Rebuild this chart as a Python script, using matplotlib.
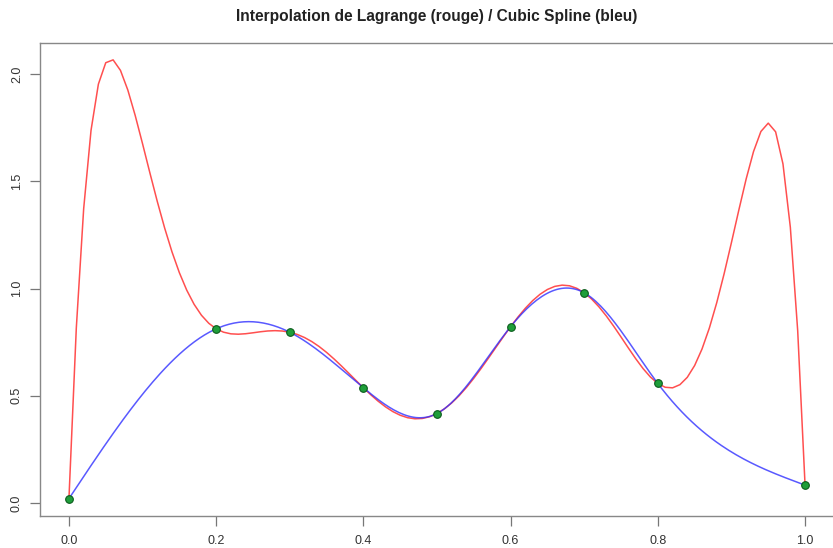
import numpy as np
import matplotlib
matplotlib.use("Agg")
import matplotlib.pyplot as plt

# Interpolation nodes
x_nodes = [0.0, 0.2, 0.3, 0.4, 0.5, 0.6, 0.7, 0.8, 1.0]
y_nodes = [0.02, 0.812, 0.796, 0.537, 0.417, 0.822, 0.980, 0.557, 0.083]

x_ticks = [0.0, 0.2, 0.4, 0.6, 0.8, 1.0]
y_ticks = [0.0, 0.5, 1.0, 1.5, 2.0]
title = "Interpolation de Lagrange (rouge) / Cubic Spline (bleu)"


def lagrange(xn, yn, t):
    xn = np.asarray(xn, float)
    yn = np.asarray(yn, float)
    out = np.zeros_like(t)
    for i in range(len(xn)):
        li = np.ones_like(t)
        for j in range(len(xn)):
            if j != i:
                li *= (t - xn[j]) / (xn[i] - xn[j])
        out += yn[i] * li
    return out


def natural_spline(xn, yn):
    # natural cubic spline: second derivative zero at both ends
    x = np.asarray(xn, float)
    y = np.asarray(yn, float)
    n = len(x)
    h = np.diff(x)
    A = np.zeros((n, n))
    r = np.zeros(n)
    A[0, 0] = A[-1, -1] = 1.0
    for i in range(1, n - 1):
        A[i, i - 1] = h[i - 1]
        A[i, i] = 2.0 * (h[i - 1] + h[i])
        A[i, i + 1] = h[i]
        r[i] = 6.0 * ((y[i + 1] - y[i]) / h[i] - (y[i] - y[i - 1]) / h[i - 1])
    M = np.linalg.solve(A, r)

    def f(t):
        t = np.asarray(t, float)
        k = np.clip(np.searchsorted(x, t, side="right") - 1, 0, n - 2)
        hk = h[k]
        a = (x[k + 1] - t) / hk
        b = (t - x[k]) / hk
        return (a * y[k] + b * y[k + 1]
                + ((a ** 3 - a) * M[k] + (b ** 3 - b) * M[k + 1]) * hk ** 2 / 6.0)
    return f


plt.rcParams["font.family"] = ["Liberation Sans", "DejaVu Sans"]

fig = plt.figure(figsize=(8.33, 5.48), dpi=100)
W, H = 833, 548
left, right, top, bottom = 39.5, 834.5, 43, 516
ax = fig.add_axes([left / W, 1 - bottom / H, (right - left) / W, (bottom - top) / H])

t_lag = np.linspace(0, 1, 101)
t_spl = np.linspace(0, 1, 300)
spl = natural_spline(x_nodes, y_nodes)

ax.plot(t_lag, lagrange(x_nodes, y_nodes, t_lag), color="#ff3030", lw=1.1, alpha=0.85)
ax.plot(t_spl, spl(t_spl), color="#3030ff", lw=1.1, alpha=0.8)
ax.plot(x_nodes, y_nodes, "o", ms=5.5, mfc="#1f9e3a", mec="#0b5c1c", mew=0.8)

ax.set_xlim(-0.04, 1.04)
ax.set_ylim(-0.061, 2.145)
ax.set_xticks(x_ticks)
ax.set_xticklabels([f"{v:.1f}" for v in x_ticks])
ax.set_yticks(y_ticks)
ax.set_yticklabels([f"{v:.1f}" for v in y_ticks], rotation=90, va="center")
ax.tick_params(axis="both", direction="out", length=7, width=0.9, color="#777777",
               labelsize=9, labelcolor="#333333")
ax.tick_params(axis="x", pad=7)
ax.tick_params(axis="y", pad=5)
for s in ax.spines.values():
    s.set_color("#888888")
    s.set_linewidth(1.0)

fig.text((left + right) / 2 / W, 1 - 16 / H, title, ha="center", va="center",
         fontsize=11.2, fontweight="bold", color="#222222")

fig.savefig("out.png", dpi=100)
